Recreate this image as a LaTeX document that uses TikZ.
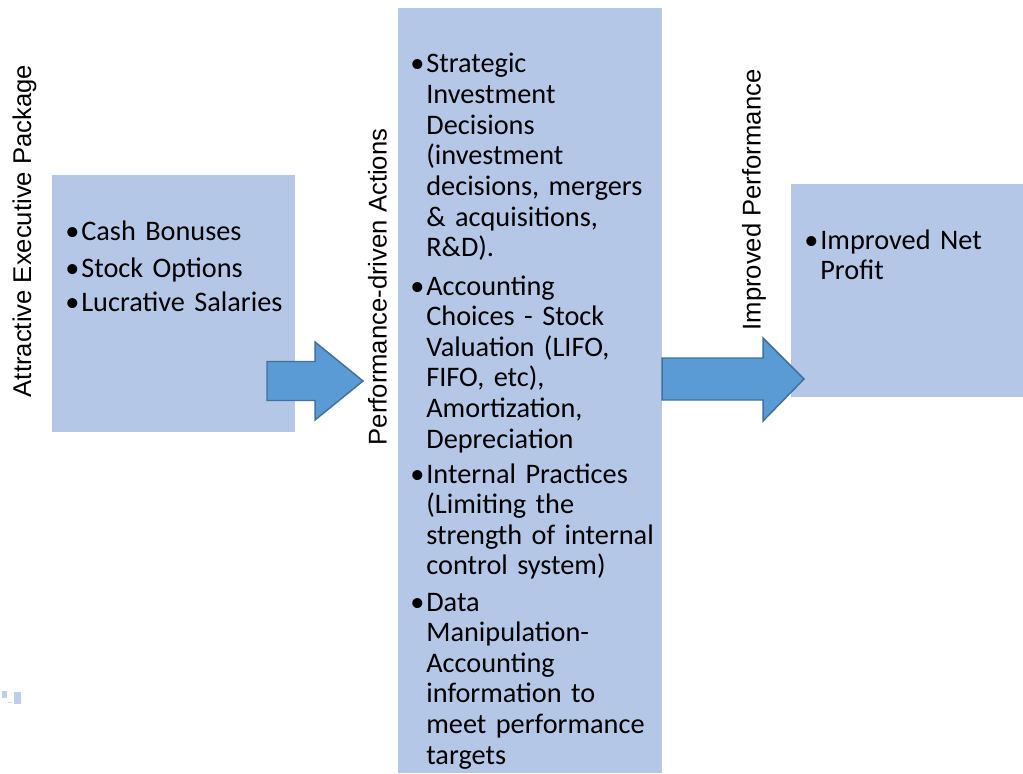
\documentclass[tikz,border=0pt]{standalone}
\usepackage{fontspec}
\setmainfont{Carlito}
\newfontfamily\labelfont{Liberation Sans}
\definecolor{boxblue}{HTML}{B4C7E7}
\definecolor{arrowblue}{HTML}{5B9BD5}
\definecolor{arrowedge}{HTML}{41719C}
\newcommand{\bul}{\llap{\textbullet\hspace{0.04cm}}}

\begin{document}
\begin{tikzpicture}[
    box/.style={fill=boxblue, draw=none, inner sep=0pt, anchor=north west},
    bullets/.style={anchor=base west, inner sep=0pt, text width=#1, align=left,
        font=\fontsize{16.1}{17.45}\selectfont},
    sidelabel/.style={rotate=90, anchor=base, inner sep=0pt,
        font=\labelfont\fontsize{14.6}{17}\selectfont},
    blockarrow/.style={fill=arrowblue, draw=arrowedge, line width=0.85pt}]
    \useasboundingbox (0,0) rectangle (20.46,15.46);
    % the three stages
    \node[box, minimum width=4.86cm, minimum height=5.14cm] (package) at (1.04,11.96) {};
    \node[box, minimum width=5.28cm, minimum height=15.30cm] (actions) at (7.96,15.30) {};
    \node[box, minimum width=4.64cm, minimum height=4.26cm] (profit) at (15.82,11.78) {};
    % bits of a shape cut off at the lower left
    \fill[boxblue!85] (0.04,1.64) rectangle (0.14,1.50);
    \fill[boxblue!85] (0.28,1.62) rectangle (0.42,1.38);
    \fill[boxblue!70] (0.16,1.43) rectangle (0.24,1.40);
    % block arrows, drawn over the boxes
    \draw[blockarrow] (5.34,8.23) -- (6.30,8.23) -- (6.30,8.62) -- (7.26,7.84)
        -- (6.30,7.06) -- (6.30,7.45) -- (5.34,7.45) -- cycle;
    \draw[blockarrow] (13.24,8.30) -- (15.26,8.30) -- (15.26,8.70) -- (16.08,7.88)
        -- (15.26,7.04) -- (15.26,7.46) -- (13.24,7.46) -- cycle;
    % stage titles
    \node[sidelabel] (packagetitle) at (0.62,10.84) {Attractive Executive Package};
    \node[sidelabel] (actionstitle) at (7.73,9.72) {Performance-driven Actions};
    \node[sidelabel] (profittitle) at (15.21,11.46) {Improved Performance};
    % bullet lists, one node per item
    \node[bullets=4.2cm] (cash) at (1.62,10.64) {\bul Cash Bonuses};
    \node[bullets=4.2cm] (stock) at (1.62,9.92) {\bul Stock Options};
    \node[bullets=4.2cm] (salary) at (1.62,9.22) {\bul Lucrative Salaries};
    \node[bullets=4.6cm] (invest) at (8.52,14.00) {\bul Strategic\\
        Investment\\ Decisions\\ (investment\\ decisions, mergers\\
        \& acquisitions,\\ R\&D).};
    \node[bullets=4.6cm] (choices) at (8.52,9.56) {\bul Accounting\\
        Choices - Stock\\ Valuation (LIFO,\\ FIFO, etc),\\ Amortization,\\
        Depreciation};
    \node[bullets=4.6cm] (practice) at (8.52,5.80) {\bul Internal Practices\\
        (Limiting the\\ strength of internal\\ control system)};
    \node[bullets=4.6cm] (data) at (8.52,3.24) {\bul Data\\
        Manipulation-\\ Accounting\\ information to\\ meet performance\\ targets};
    \node[bullets=4.0cm] (netprofit) at (16.40,10.48) {\bul Improved Net\\
        Profit};
\end{tikzpicture}
\end{document}
